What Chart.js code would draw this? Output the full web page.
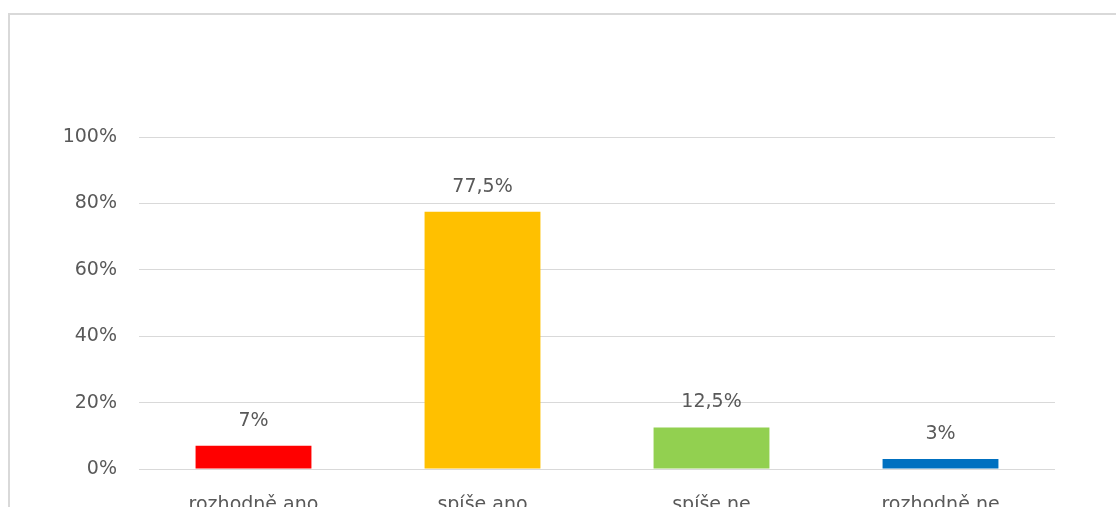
<!DOCTYPE html>
<html lang="cs">
<head>
<meta charset="utf-8">
<script src="https://cdn.jsdelivr.net/npm/chart.js@4.4.1/dist/chart.umd.min.js"></script>
<style>
  html, body { margin: 0; padding: 0; background: #ffffff; overflow: hidden; width: 1116px; height: 507px; }
  #frame { position: absolute; left: 8px; top: 13px; width: 1200px; height: 600px; border-left: 2px solid #d9d9d9; border-top: 2px solid #d9d9d9; }
  #wrap { position: absolute; left: 0; top: 0; width: 1116px; height: 560px; }
</style>
</head>
<body>
<div id="frame"></div>
<div id="wrap"><canvas id="chart"></canvas></div>
<script>
// Answer categories and their shares (percent)
const categories = ['rozhodně ano', 'spíše ano', 'spíše ne', 'rozhodně ne'];
const shares = [7, 77.5, 12.5, 3];
const barColors = ['#FF0000', '#FFC000', '#92D050', '#0070C0'];
const yTicks = [0, 20, 40, 60, 80, 100];

const textColor = '#595959';
const fontFamily = '"DejaVu Sans", sans-serif';

const fmtPct = v => String(v).replace('.', ',') + '%';

// Value labels above each bar
const valueLabels = {
  id: 'valueLabels',
  afterDatasetsDraw(chart) {
    const ctx = chart.ctx;
    const meta = chart.getDatasetMeta(0);
    ctx.save();
    ctx.font = '19px ' + fontFamily;
    ctx.fillStyle = textColor;
    ctx.textAlign = 'center';
    ctx.textBaseline = 'middle';
    meta.data.forEach((bar, i) => {
      ctx.fillText(fmtPct(chart.data.datasets[0].data[i]), bar.x, bar.y - 25);
    });
    ctx.restore();
  }
};

new Chart(document.getElementById('chart'), {
  type: 'bar',
  data: {
    labels: categories,
    datasets: [{
      data: shares,
      backgroundColor: barColors,
      borderWidth: 0,
      categoryPercentage: 1,
      barPercentage: 0.506
    }]
  },
  options: {
    responsive: true,
    maintainAspectRatio: false,
    animation: false,
    devicePixelRatio: 1,
    layout: { padding: { left: 0, right: 61, top: 137, bottom: 0 } },
    plugins: { legend: { display: false }, tooltip: { enabled: false } },
    scales: {
      x: {
        grid: { display: false, drawTicks: false },
        border: { display: false },
        ticks: { color: textColor, font: { family: fontFamily, size: 19 }, padding: 25, maxRotation: 0 },
        afterFit(scale) { scale.height = 91; }
      },
      y: {
        min: 0,
        max: 100,
        afterBuildTicks(scale) { scale.ticks = yTicks.map(v => ({ value: v })); },
        grid: { color: '#d9d9d9', lineWidth: 1, drawTicks: false },
        border: { display: false },
        ticks: {
          color: textColor,
          font: { family: fontFamily, size: 19 },
          padding: 22,
          callback: v => v + '%'
        },
        afterFit(scale) { scale.width = 139; }
      }
    }
  },
  plugins: [valueLabels]
});
</script>
</body>
</html>
